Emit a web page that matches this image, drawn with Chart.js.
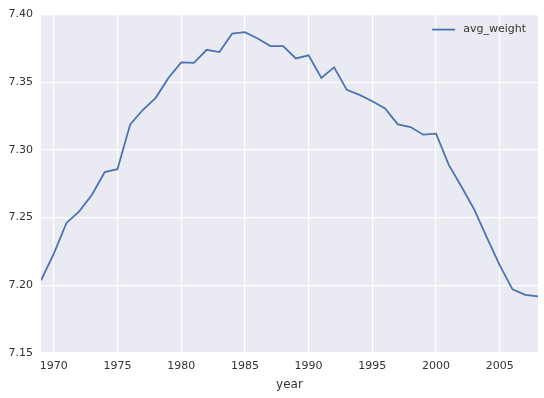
<!DOCTYPE html>
<html>
<head>
<meta charset="utf-8">
<script src="https://cdn.jsdelivr.net/npm/chart.js@4"></script>
<style>
  html, body { margin: 0; padding: 0; background: #fff; }
  #wrap { width: 544px; height: 398px; }
</style>
</head>
<body>
<div id="wrap"><canvas id="myChart" width="544" height="398"></canvas></div>
<script>
const years = [1969, 1970, 1971, 1972, 1973, 1974, 1975, 1976, 1977, 1978,
    1979, 1980, 1981, 1982, 1983, 1984, 1985, 1986, 1987, 1988,
    1989, 1990, 1991, 1992, 1993, 1994, 1995, 1996, 1997, 1998,
    1999, 2000, 2001, 2002, 2003, 2004, 2005, 2006, 2007, 2008];
const avgWeight = [7.2037, 7.2233, 7.2461, 7.2546, 7.2669, 7.2836, 7.2858, 7.3189, 7.3297, 7.3385,
    7.3532, 7.3647, 7.3643, 7.3740, 7.3723, 7.3860, 7.3870, 7.3824, 7.3767, 7.3767,
    7.3676, 7.3699, 7.3532, 7.3610, 7.3444, 7.3407, 7.3360, 7.3307, 7.3189, 7.3169,
    7.3113, 7.3120, 7.2890, 7.2728, 7.2559, 7.2350, 7.2147, 7.1970, 7.1929, 7.1919];
const xTicks = [1970, 1975, 1980, 1985, 1990, 1995, 2000, 2005];
const yTicks = [7.15, 7.20, 7.25, 7.30, 7.35, 7.40];

const font = { family: 'DejaVu Sans', size: 11 };

// seaborn-like grey plot background
const plotBg = {
    id: 'plotBg',
    beforeDraw(chart) {
        const a = chart.chartArea;
        const c = chart.ctx;
        c.save();
        c.fillStyle = '#eaeaf2';
        c.fillRect(a.left, a.top, a.right - a.left, a.bottom - a.top);
        c.restore();
    }
};

// legend inside the plot, top right, matplotlib style
const innerLegend = {
    id: 'innerLegend',
    afterDraw(chart) {
        const a = chart.chartArea;
        const c = chart.ctx;
        const ds = chart.data.datasets[0];
        c.save();
        c.font = '11px "DejaVu Sans"';
        const tw = c.measureText(ds.label).width;
        const textX = a.right - 12 - tw;
        const y = a.top + 15;
        c.strokeStyle = ds.borderColor;
        c.lineWidth = ds.borderWidth;
        c.beginPath();
        c.moveTo(textX - 31, y);
        c.lineTo(textX - 8, y);
        c.stroke();
        c.fillStyle = '#333';
        c.textBaseline = 'middle';
        c.fillText(ds.label, textX, y);
        c.restore();
    }
};

let ctx = document.getElementById('myChart').getContext('2d');
let chart = new Chart(ctx, {
    type: 'line',
    data: {
        datasets: [{
            label: 'avg_weight',
            data: years.map((y, i) => ({ x: y, y: avgWeight[i] })),
            borderColor: '#4c72b0',
            backgroundColor: '#4c72b0',
            borderWidth: 1.8,
            pointRadius: 0,
            tension: 0,
            fill: false
        }]
    },
    options: {
        responsive: false,
        animation: false,
        layout: { padding: { top: 13, right: 6, left: 0, bottom: 6 } },
        plugins: {
            tooltip: { enabled: false },
            legend: { display: false }
        },
        scales: {
            x: {
                type: 'linear',
                min: 1969,
                max: 2008,
                border: { display: false },
                grid: { color: '#ffffff', lineWidth: 1.2, drawTicks: false },
                afterBuildTicks: axis => { axis.ticks = xTicks.map(v => ({ value: v })); },
                afterFit: axis => { axis.height = 39; },
                ticks: {
                    padding: 7,
                    color: '#333',
                    font: font,
                    maxRotation: 0,
                    callback: v => String(v)
                },
                title: {
                    display: true,
                    text: 'year',
                    color: '#333',
                    font: { family: 'DejaVu Sans', size: 12 },
                    padding: { top: 2, bottom: 0 }
                }
            },
            y: {
                min: 7.15,
                max: 7.40,
                border: { display: false },
                grid: { color: '#ffffff', lineWidth: 1.2, drawTicks: false },
                afterBuildTicks: axis => { axis.ticks = yTicks.map(v => ({ value: v })); },
                afterFit: axis => { axis.width = 41; },
                ticks: {
                    padding: 8,
                    color: '#333',
                    font: font,
                    callback: v => v.toFixed(2)
                }
            }
        }
    },
    plugins: [plotBg, innerLegend]
});
</script>
</body>
</html>
